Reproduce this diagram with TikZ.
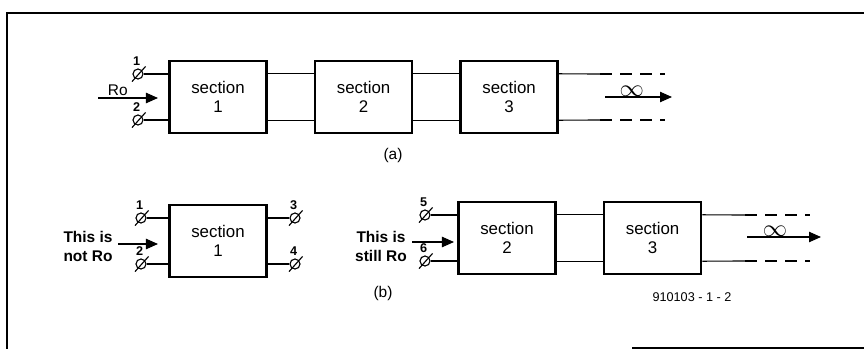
\documentclass[tikz,border=0pt]{standalone}
\usepackage{fontspec}
\setmainfont{Liberation Sans}
\usetikzlibrary{arrows.meta, positioning}

\begin{document}
\begin{tikzpicture}[x=0.025cm, y=-0.025cm,
    node distance=1.15cm,
    sect/.style={draw, line width=1.8pt, minimum width=2.425cm, minimum height=1.8cm, align=center, font=\fontsize{12}{14}\selectfont},
    term/.style={circle, draw, thick, minimum size=0.25cm, inner sep=0pt},
    tlabel/.style={font=\fontsize{9}{10}\selectfont\bfseries, inner sep=1pt},
    wire/.style={thick},
    tail/.style={thick, dash pattern=on 0.3cm off 0.2cm},
    feed/.style={thick, -{Triangle[length=0.3cm, width=0.26cm]}},
    infty/.style={inner sep=0pt, font=\fontsize{17}{17}\selectfont},
    note/.style={align=center, font=\fontsize{11}{13.5}\selectfont\bfseries}
]
    \useasboundingbox (0,0) rectangle (864,349);

    % frame of the figure
    \draw[line width=1.4pt] (7,349) -- (7,13) -- (864,13);
    \draw[line width=1.4pt] (632,348) -- (864,348);

    % (a) chain of sections
    \node[sect] (a1) at (218,97) {section\\1};
    \node[sect, right=of a1] (a2) {section\\2};
    \node[sect, right=of a2] (a3) {section\\3};

    % (b) first section alone, then the rest of the chain
    \node[sect] (b1) at (218,241) {section\\1};
    \node[sect] (b2) at (507,238) {section\\2};
    \node[sect, right=of b2] (b3) {section\\3};

    % terminals
    \foreach \nm/\px/\py/\num in {ta1/138/74/1, ta2/138/120/2, tb1/141/218/1, tb2/141/264/2,
                                  tb3/295/218/3, tb4/295/264/4, tb5/425/215/5, tb6/425/261/6}
        \node[term, label={[tlabel, label distance=1pt, xshift=-1pt]above:\num}] (\nm) at (\px,\py) {};
    \foreach \nm in {ta1, ta2, tb1, tb2, tb3, tb4, tb5, tb6}
        \draw[thick] ([shift={(-0.15cm,-0.19cm)}]\nm.center) -- ([shift={(0.19cm,0.19cm)}]\nm.center);

    % terminal leads
    \draw[wire] (ta1) -- (ta1 -| a1.west);
    \draw[wire] (ta2) -- (ta2 -| a1.west);
    \draw[wire] (tb1) -- (tb1 -| b1.west);
    \draw[wire] (tb2) -- (tb2 -| b1.west);
    \draw[wire] (tb3) -- (tb3 -| b1.east);
    \draw[wire] (tb4) -- (tb4 -| b1.east);
    \draw[wire] (tb5) -- (tb5 -| b2.west);
    \draw[wire] (tb6) -- (tb6 -| b2.west);

    % links between sections
    \foreach \u/\v in {a1/a2, a2/a3, b2/b3} {
        \draw[wire] ([yshift=0.58cm]\u.east) -- ([yshift=0.58cm]\v.west);
        \draw[wire] ([yshift=-0.58cm]\u.east) -- ([yshift=-0.58cm]\v.west);
    }

    % open ends towards infinity
    \coordinate (a3tm) at (600,74);  \coordinate (a3te) at (665,74);
    \coordinate (a3bm) at (600,120); \coordinate (a3be) at (665,120);
    \draw[wire] ([yshift=0.58cm]a3.east) -- (a3tm);
    \draw[wire] ([yshift=-0.58cm]a3.east) -- (a3bm);
    \draw[tail] (a3tm) -- (a3te);
    \draw[tail] (a3bm) -- (a3be);

    \coordinate (b3tm) at (745,215); \coordinate (b3te) at (810,215);
    \coordinate (b3bm) at (745,261); \coordinate (b3be) at (810,261);
    \draw[wire] ([yshift=0.58cm]b3.east) -- (b3tm);
    \draw[wire] ([yshift=-0.58cm]b3.east) -- (b3bm);
    \draw[tail] (b3tm) -- (b3te);
    \draw[tail] (b3bm) -- (b3be);

    % resistance arrows
    \coordinate (ro0) at (98,98);   \coordinate (ro1) at (158,98);
    \coordinate (ainf0) at (605,97); \coordinate (ainf1) at (672,97);
    \coordinate (bro0) at (118,244); \coordinate (bro1) at (158,244);
    \coordinate (bst0) at (412,242); \coordinate (bst1) at (454,242);
    \coordinate (binf0) at (747,237); \coordinate (binf1) at (821,237);

    \draw[feed] (ro0) -- node[pos=0.33, above, inner sep=1pt, font=\fontsize{11}{13}\selectfont] {Ro} (ro1);
    \draw[feed] (ainf0) -- node[pos=0.4, above, infty] {$\infty$} (ainf1);
    \draw[feed] (bro0) -- (bro1);
    \draw[feed] (bst0) -- (bst1);
    \draw[feed] (binf0) -- node[pos=0.38, above, infty] {$\infty$} (binf1);

    % captions
    \node[note] (notro) at (88,246) {This is\\not Ro};
    \node[note] (stillro) at (381,246) {This is\\still Ro};
    \node[font=\fontsize{11}{13}\selectfont] (capa) at (393,155) {(a)};
    \node[font=\fontsize{11}{13}\selectfont] (capb) at (383,293) {(b)};
    \node[font=\fontsize{9}{11}\selectfont] (figno) at (692,297) {910103 - 1 - 2};
\end{tikzpicture}
\end{document}
